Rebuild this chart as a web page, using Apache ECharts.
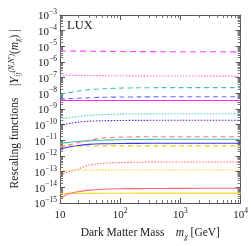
<!DOCTYPE html>
<html><head><meta charset="utf-8">
<script src="https://cdn.jsdelivr.net/npm/echarts@6/dist/echarts.min.js"></script>
<style>html,body{margin:0;padding:0;background:#fff}#c{width:251px;height:246px}</style>
</head><body><div id="c"></div>
<script>
const mass = [10, 12.5, 15, 20, 30, 50, 100, 200, 500, 1000, 10000];
const yTickExponents = [-15,-14,-13,-12,-11,-10,-9,-8,-7,-6,-5,-4,-3];
const xTickLabels = ['10','10^2','10^3','10^4'];

const magentaDashed = [5.1e-6,5.05e-6,5.0e-6,4.95e-6,4.9e-6,4.8e-6,4.7e-6,4.6e-6,4.55e-6,4.5e-6,4.45e-6];
const pinkDotted    = [1.45e-7,1.44e-7,1.42e-7,1.4e-7,1.38e-7,1.35e-7,1.32e-7,1.3e-7,1.28e-7,1.27e-7,1.25e-7];
const tealDashed    = [8.5e-9,1.0e-8,1.15e-8,1.4e-8,1.7e-8,1.95e-8,2.15e-8,2.25e-8,2.3e-8,2.3e-8,2.3e-8];
const blueDashed    = [4.1e-9,4.4e-9,4.6e-9,4.9e-9,5.2e-9,5.6e-9,5.8e-9,5.9e-9,6.0e-9,6.0e-9,6.0e-9];
const magentaSolid  = [3.5e-9,3.5e-9,3.5e-9,3.5e-9,3.5e-9,3.5e-9,3.5e-9,3.5e-9,3.5e-9,3.5e-9,3.5e-9];
const tealDotted    = [2.3e-10,2.6e-10,2.9e-10,3.3e-10,3.9e-10,4.4e-10,4.7e-10,4.85e-10,4.95e-10,5e-10,5e-10];
const blueDotted    = [9.8e-11,1.1e-10,1.25e-10,1.45e-10,1.65e-10,1.78e-10,1.85e-10,1.88e-10,1.9e-10,1.9e-10,1.9e-10];
const redDashed     = [3.5e-12,4.6e-12,5.4e-12,7.0e-12,9.8e-12,1.4e-11,1.6e-11,1.67e-11,1.7e-11,1.7e-11,1.7e-11];
const tealSolid     = [6.5e-12,7.1e-12,7.6e-12,8.4e-12,9.3e-12,1.02e-11,1.1e-11,1.14e-11,1.16e-11,1.17e-11,1.17e-11];
const blueSolid     = [2.7e-12,3.4e-12,3.9e-12,4.7e-12,5.5e-12,6.0e-12,6.3e-12,6.4e-12,6.5e-12,6.5e-12,6.5e-12];
const yellowDashed  = [4.1e-12,4.2e-12,4.25e-12,4.3e-12,4.35e-12,4.4e-12,4.4e-12,4.4e-12,4.4e-12,4.4e-12,4.4e-12];
const redDotted     = [6.2e-14,8.5e-14,1.05e-13,1.48e-13,2.6e-13,3.4e-13,3.8e-13,4.0e-13,4.1e-13,4.1e-13,4.1e-13];
const yellowDotted  = [1.2e-13,1.22e-13,1.23e-13,1.24e-13,1.25e-13,1.26e-13,1.27e-13,1.28e-13,1.28e-13,1.28e-13,1.28e-13];
const redSolid      = [1.6e-15,3.3e-15,4.2e-15,5.2e-15,6.6e-15,7.6e-15,8.1e-15,8.3e-15,8.5e-15,8.6e-15,8.7e-15];
const yellowSolid   = [3.9e-15,3.95e-15,4.0e-15,4.05e-15,4.1e-15,4.15e-15,4.2e-15,4.25e-15,4.3e-15,4.3e-15,4.3e-15];

const minorSteps = [2,3,4,5,6,7,8,9];
const xDecades = [10,100,1000];
const yDecades = [-15,-14,-13,-12,-11,-10,-9,-8,-7,-6,-5,-4];

const SERIF = '"Liberation Serif","DejaVu Serif",serif';
const DOT = [1.5,1.5], DASH = [5,3.5];

const seriesDefs = [
  {d: magentaDashed, c:'#ff44ff', t:[6,4]},
  {d: pinkDotted, c:'#ff66ff', t:DOT},
  {d: tealDashed, c:'#40c4b8', t:DASH},
  {d: blueDashed, c:'#6a6aff', t:DASH},
  {d: magentaSolid, c:'#ee33ee', t:'solid'},
  {d: tealDotted, c:'#48c8c0', t:DOT},
  {d: blueDotted, c:'#3535e0', t:DOT},
  {d: yellowDashed, c:'#f0c810', t:DASH},
  {d: blueSolid, c:'#3535ff', t:'solid'},
  {d: tealSolid, c:'#40c0b4', t:'solid'},
  {d: redDashed, c:'#ff7a7a', t:DASH},
  {d: redDotted, c:'#ff6a6a', t:DOT},
  {d: yellowDotted, c:'#f5d020', t:DOT},
  {d: yellowSolid, c:'#f8d828', t:'solid'},
  {d: redSolid, c:'#ff6a6a', t:'solid'}
];

const minorData = [];
xDecades.forEach(d => minorSteps.forEach(s => minorData.push([d*s, 1e-9, 0])));
yDecades.forEach(e => minorSteps.forEach(s => minorData.push([100, s*Math.pow(10,e), 1])));

const chart = echarts.init(document.getElementById('c'), null, {renderer:'canvas'});

const richLbl = {
  a:{fontFamily:SERIF, fontSize:11, color:'#222', lineHeight:14, verticalAlign:'bottom'},
  b:{fontFamily:SERIF, fontSize:7.5, color:'#222', lineHeight:8, verticalAlign:'top'}
};
function expLabel(v){
  const e = Math.round(Math.log10(v));
  if (e === 1) return '{a|10}';
  return '{a|10}{b|' + (e<0 ? '\u2212' + (-e) : e) + '}';
}
const axisCommon = {
  type:'log', logBase:10,
  axisLine:{show:true, lineStyle:{color:'#555', width:1}},
  axisTick:{show:true, inside:true, length:5, lineStyle:{color:'#555'}},
  splitLine:{show:false}, minorTick:{show:false}
};

chart.setOption({
  animation:false,
  grid:{left:56, right:7, top:15, bottom:41, containLabel:false},
  xAxis:[
    Object.assign({}, axisCommon, {min:10, max:10000, interval:1, position:'bottom',
      axisLabel:{formatter:expLabel, rich:richLbl, margin:4},
      name:'{t|Dark Matter Mass    }{i|m}{s|\u03c7}{t| [GeV]}', nameLocation:'middle', nameGap:24,
      nameTextStyle:{rich:{
        t:{fontFamily:SERIF, fontSize:11.5, color:'#222', lineHeight:14, verticalAlign:'top'},
        i:{fontFamily:SERIF, fontSize:11.5, fontStyle:'italic', color:'#222', lineHeight:14, verticalAlign:'top'},
        s:{fontFamily:SERIF, fontSize:8, fontStyle:'italic', color:'#222', lineHeight:8, verticalAlign:'bottom'}
      }}}),
    Object.assign({}, axisCommon, {min:10, max:10000, interval:1, position:'top', axisLabel:{show:false}})
  ],
  yAxis:[
    Object.assign({}, axisCommon, {min:1e-15, max:1e-3, interval:1, position:'left',
      axisLabel:{formatter:expLabel, rich:richLbl, margin:3},
      name:'{t|Rescaling functions    |}{y|Y}{s|ij}{p|(N,N\u2032)}{t|(}{i|m}{s|\u03c7}{t|) |}',
      nameLocation:'middle', nameGap:38, nameRotate:90,
      nameTextStyle:{rich:{
        t:{fontFamily:SERIF, fontSize:11.5, color:'#222', lineHeight:14, verticalAlign:'middle'},
        y:{fontFamily:SERIF, fontSize:12.5, fontStyle:'italic', color:'#222', lineHeight:14, verticalAlign:'middle'},
        i:{fontFamily:SERIF, fontSize:11.5, fontStyle:'italic', color:'#222', lineHeight:14, verticalAlign:'middle'},
        s:{fontFamily:SERIF, fontSize:7.5, fontStyle:'italic', color:'#222', lineHeight:8, verticalAlign:'bottom'},
        p:{fontFamily:SERIF, fontSize:7.5, fontStyle:'italic', color:'#222', lineHeight:8, verticalAlign:'top'}
      }}}),
    Object.assign({}, axisCommon, {min:1e-15, max:1e-3, interval:1, position:'right', axisLabel:{show:false}})
  ],
  graphic:[{type:'text', left:67, top:19, style:{text:'LUX', font:'12.5px ' + SERIF, fill:'#222'}}],
  series: seriesDefs.map(s => ({
    type:'line', xAxisIndex:0, yAxisIndex:0, showSymbol:false, smooth:0.3,
    data: mass.map((m,i)=>[m, s.d[i]]),
    lineStyle:{color:s.c, width:1.1, type:s.t}
  })).concat([{
    type:'custom', xAxisIndex:0, yAxisIndex:0, data:minorData, encode:{x:0,y:1}, clip:false, silent:true,
    renderItem:function(params, api){
      const cs = params.coordSys; const kind = api.value(2);
      const st = {stroke:'#777', lineWidth:1};
      if (kind === 0) {
        const px = Math.round(api.coord([api.value(0), 1e-9])[0]) + 0.5;
        return {type:'group', children:[
          {type:'line', shape:{x1:px,y1:cs.y+cs.height,x2:px,y2:cs.y+cs.height-3}, style:st},
          {type:'line', shape:{x1:px,y1:cs.y,x2:px,y2:cs.y+3}, style:st}]};
      } else {
        const py = Math.round(api.coord([100, api.value(1)])[1]) + 0.5;
        return {type:'group', children:[
          {type:'line', shape:{x1:cs.x,y1:py,x2:cs.x+3,y2:py}, style:st},
          {type:'line', shape:{x1:cs.x+cs.width,y1:py,x2:cs.x+cs.width-3,y2:py}, style:st}]};
      }
    }
  }])
});
</script></body></html>
